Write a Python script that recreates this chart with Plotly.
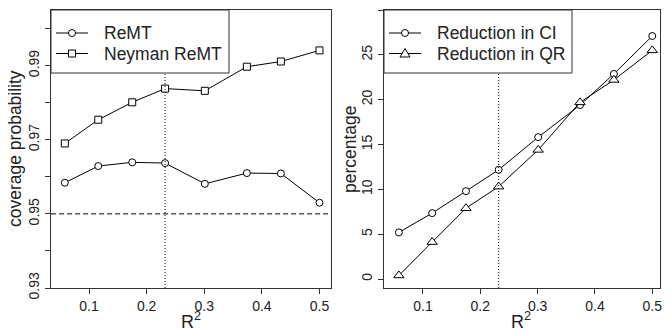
import plotly.graph_objects as go

r2 = [0.058, 0.116, 0.175, 0.232, 0.301, 0.374, 0.433, 0.50]
remt = [0.9584, 0.9629, 0.9639, 0.9637, 0.9581, 0.9610, 0.9609, 0.9530]
neyman = [0.9690, 0.9754, 0.9801, 0.9838, 0.9832, 0.9897, 0.9911, 0.9941]
red_ci = [5.2, 7.35, 9.8, 12.18, 15.82, 19.4, 22.87, 27.1]
red_qr = [0.4, 4.12, 7.9, 10.3, 14.4, 19.7, 22.2, 25.5]
r2_cut = 0.232
ref_level = 0.95

left_yticks = [0.93, 0.94, 0.95, 0.96, 0.97, 0.98, 0.99, 1.00]
left_ylabels = ["0.93", "", "0.95", "", "0.97", "", "0.99", ""]
right_yticks = [0, 5, 10, 15, 20, 25, 30]
xticks = [0.1, 0.2, 0.3, 0.4, 0.5]

FONT = "Liberation Sans, Arial, sans-serif"
INK = "#222222"
AX = "#333333"

# page has an 8px body margin, so the figure is 8px smaller than the window
W, H = 663, 323
L1, R1 = 43, 323
L2, R2 = 376, 652
TOP, BOT = 2, 280

fig = go.Figure()

def add_series(x, y, symbol, size, xa, ya, name):
    fig.add_trace(go.Scatter(
        x=x, y=y, mode="lines+markers", name=name, showlegend=False,
        line=dict(color="black", width=1),
        marker=dict(symbol=symbol, size=size, color="white",
                    line=dict(color="black", width=1)),
        xaxis=xa, yaxis=ya, cliponaxis=False))

add_series(r2, remt, "circle", 7, "x", "y", "ReMT")
add_series(r2, neyman, "square", 7, "x", "y", "Neyman ReMT")
add_series(r2, red_ci, "circle", 7, "x2", "y2", "Reduction in CI")
add_series(r2, red_qr, "triangle-up", 9, "x2", "y2", "Reduction in QR")

axcommon = dict(showline=True, linecolor=AX, linewidth=1, mirror=True,
                ticks="outside", ticklen=5, tickcolor=AX, showgrid=False,
                zeroline=False, automargin=False,
                tickfont=dict(family=FONT, size=14, color=INK))

fig.update_layout(
    template="none",
    width=W, height=H, margin=dict(l=0, r=0, t=TOP, b=H - BOT, pad=0),
    paper_bgcolor="white", plot_bgcolor="white", showlegend=False,
    xaxis=dict(domain=[L1 / W, R1 / W], range=[0.034, 0.52], tickvals=xticks,
               ticktext=[str(v) for v in xticks], anchor="y", **axcommon),
    yaxis=dict(domain=[0, 1], range=[0.93, 1.005], tickvals=left_yticks,
               ticktext=left_ylabels, tickangle=-90, anchor="x", **axcommon),
    xaxis2=dict(domain=[L2 / W, R2 / W], range=[0.032, 0.5135], tickvals=xticks,
                ticktext=[str(v) for v in xticks], anchor="y2", **axcommon),
    yaxis2=dict(domain=[0, 1], range=[-1.0, 30], tickvals=right_yticks,
                ticktext=[str(v) for v in right_yticks], tickangle=-90, anchor="x2",
                **axcommon),
)

# axis titles
for cx in [(L1 + R1) / 2, (L2 + R2) / 2 - 1]:
    fig.add_annotation(xref="paper", yref="paper", x=cx / W, y=0, xanchor="center",
                       yanchor="top", yshift=-19, text="R<sup>2</sup>", showarrow=False,
                       font=dict(family=FONT, size=18, color=INK))
for cx, label in [(7, "coverage probability"), (342, "percentage")]:
    fig.add_annotation(xref="paper", yref="paper", x=cx / W, y=0.5, xanchor="center",
                       yanchor="middle", text=label, textangle=-90, showarrow=False,
                       font=dict(family=FONT, size=17.5, color=INK))

# reference lines
fig.add_shape(type="line", xref="x domain", yref="y", x0=0, x1=1,
              y0=ref_level, y1=ref_level,
              line=dict(color="black", width=1, dash="5px,3px"), layer="above")
fig.add_shape(type="line", xref="x", yref="y domain", x0=r2_cut, x1=r2_cut,
              y0=0, y1=1, line=dict(color="black", width=1, dash="1px,2px"),
              layer="above")
fig.add_shape(type="line", xref="x2", yref="y2 domain", x0=r2_cut, x1=r2_cut,
              y0=0, y1=1, line=dict(color="black", width=1, dash="1px,2px"),
              layer="above")

# legends drawn as boxes in the upper-left corner of each panel
def legend(xd, yd, box_w, box_h, entries):
    fig.add_shape(type="rect", xref=xd, yref=yd, xsizemode="pixel", ysizemode="pixel",
                  xanchor=0, yanchor=1, x0=0, x1=box_w, y0=0, y1=-box_h,
                  fillcolor="white", line=dict(color=AX, width=1), layer="above")
    for i, (label, sym) in enumerate(entries):
        yoff = -23 - i * 20.5
        fig.add_shape(type="line", xref=xd, yref=yd, xsizemode="pixel",
                      ysizemode="pixel", xanchor=0, yanchor=1,
                      x0=5, x1=37, y0=yoff, y1=yoff,
                      line=dict(color="black", width=1), layer="above")
        if sym == "circle":
            fig.add_shape(type="circle", xref=xd, yref=yd, xsizemode="pixel",
                          ysizemode="pixel", xanchor=0, yanchor=1,
                          x0=17.5, x1=24.5, y0=yoff - 3.5, y1=yoff + 3.5,
                          fillcolor="white", line=dict(color="black", width=1),
                          layer="above")
        elif sym == "square":
            fig.add_shape(type="rect", xref=xd, yref=yd, xsizemode="pixel",
                          ysizemode="pixel", xanchor=0, yanchor=1,
                          x0=17.5, x1=24.5, y0=yoff - 3.5, y1=yoff + 3.5,
                          fillcolor="white", line=dict(color="black", width=1),
                          layer="above")
        else:
            fig.add_shape(type="path", xref=xd, yref=yd, xsizemode="pixel",
                          ysizemode="pixel", xanchor=0, yanchor=1,
                          path=f"M 16,{yoff-3.5} L 26,{yoff-3.5} L 21,{yoff+5} Z",
                          fillcolor="white", line=dict(color="black", width=1),
                          layer="above")
        fig.add_annotation(xref=xd, yref=yd, x=0, y=1, xanchor="left", yanchor="middle",
                           xshift=51, yshift=yoff, text=label, showarrow=False,
                           font=dict(family=FONT, size=17.5, color=INK))

legend("x domain", "y domain", 178, 63, [("ReMT", "circle"), ("Neyman ReMT", "square")])
legend("x2 domain", "y2 domain", 188, 63, [("Reduction in CI", "circle"),
                                            ("Reduction in QR", "triangle")])

fig.write_html("out.html")
